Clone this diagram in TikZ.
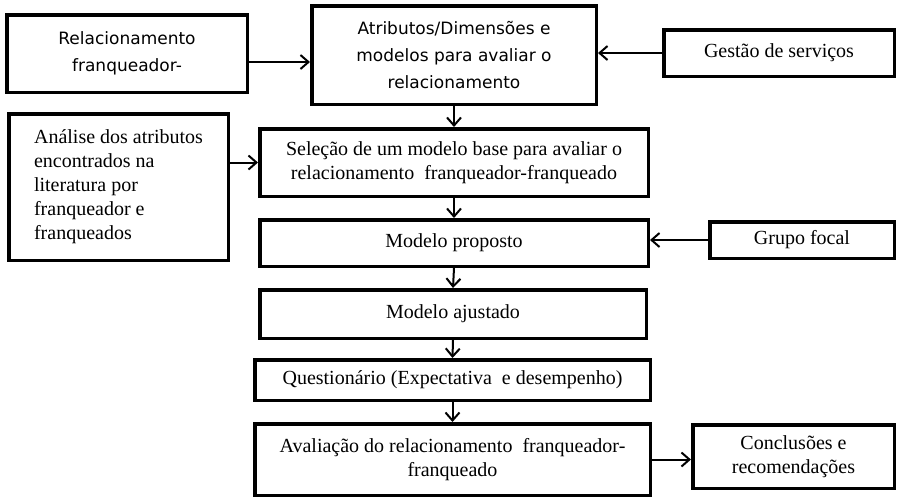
\documentclass[tikz,border=0pt]{standalone}
\usepackage{fontspec}
\setmainfont{Liberation Serif}
\newfontfamily\sansfont{DejaVu Sans}
\usetikzlibrary{arrows.meta}
\begin{document}
\begin{tikzpicture}[x=1pt, y=-1pt,
        box/.style = {draw, line width=3.5pt, align=center, inner sep=0pt, font=\fontsize{20}{24}\selectfont},
        sansbox/.style = {box, font=\sansfont\fontsize{17}{27}\selectfont},
        flow/.style = {line width=2pt, -{Straight Barb[length=8pt, width=14pt]}}]
        \useasboundingbox (0,0) rectangle (898,499);
        \node [sansbox, minimum width=240.5pt, minimum height=77.5pt] (rel) at (127,53.5) {Relacionamento\\franqueador-};
        \node [sansbox, minimum width=284.5pt, minimum height=98.5pt] (atr) at (454,55) {Atributos/Dimensões e\\modelos para avaliar o\\relacionamento};
        \node [box, minimum width=230.5pt, minimum height=46.5pt] (ges) at (779,53) {Gestão de serviços};
        \node [box, align=left, minimum width=219.5pt, minimum height=146.5pt] (ana) at (118.5,187) {Análise dos atributos\\encontrados na\\literatura por\\franqueador e\\franqueados};
        \node [box, minimum width=388.5pt, minimum height=67.5pt] (sel) at (454,162.5) {Seleção de um modelo base para avaliar o\\relacionamento~ franqueador-franqueado};
        \node [box, minimum width=388.5pt, minimum height=46.5pt] (mod) at (454,243) {Modelo proposto};
        \node [box, minimum width=184.5pt, minimum height=36.5pt] (gru) at (802,240) {Grupo focal};
        \node [box, minimum width=386.5pt, minimum height=48.5pt] (aju) at (453,314) {Modelo ajustado};
        \node [box, minimum width=395.5pt, minimum height=40.5pt] (que) at (452.5,380) {Questionário (Expectativa~ e desempenho)};
        \node [box, minimum width=395.5pt, minimum height=71.5pt] (ava) at (452.5,459.5) {Avaliação do relacionamento~ franqueador-\\franqueado};
        \node [box, minimum width=201.5pt, minimum height=63.5pt] (con) at (793.5,456.5) {Conclusões e\\recomendações};
        \draw [flow] ([yshift=-8.5pt]rel.east) -- ([yshift=-8.5pt]atr.west |- rel.east);
        \draw [flow] (ges.west) -- (atr.east |- ges.west);
        \draw [flow] (ana.east |- sel.west) -- (sel.west);
        \draw [flow] (gru.west) -- (mod.east |- gru.west);
        \draw [flow] (ava.east) -- (con.west |- ava.east);
        \draw [flow] (atr.south) -- (sel.north);
        \draw [flow] (sel.south) -- (mod.north);
        \draw [flow] (mod.south) -- (aju.north);
        \draw [flow] (aju.south) -- (que.north);
        \draw [flow] (que.south) -- (ava.north);
\end{tikzpicture}
\end{document}
